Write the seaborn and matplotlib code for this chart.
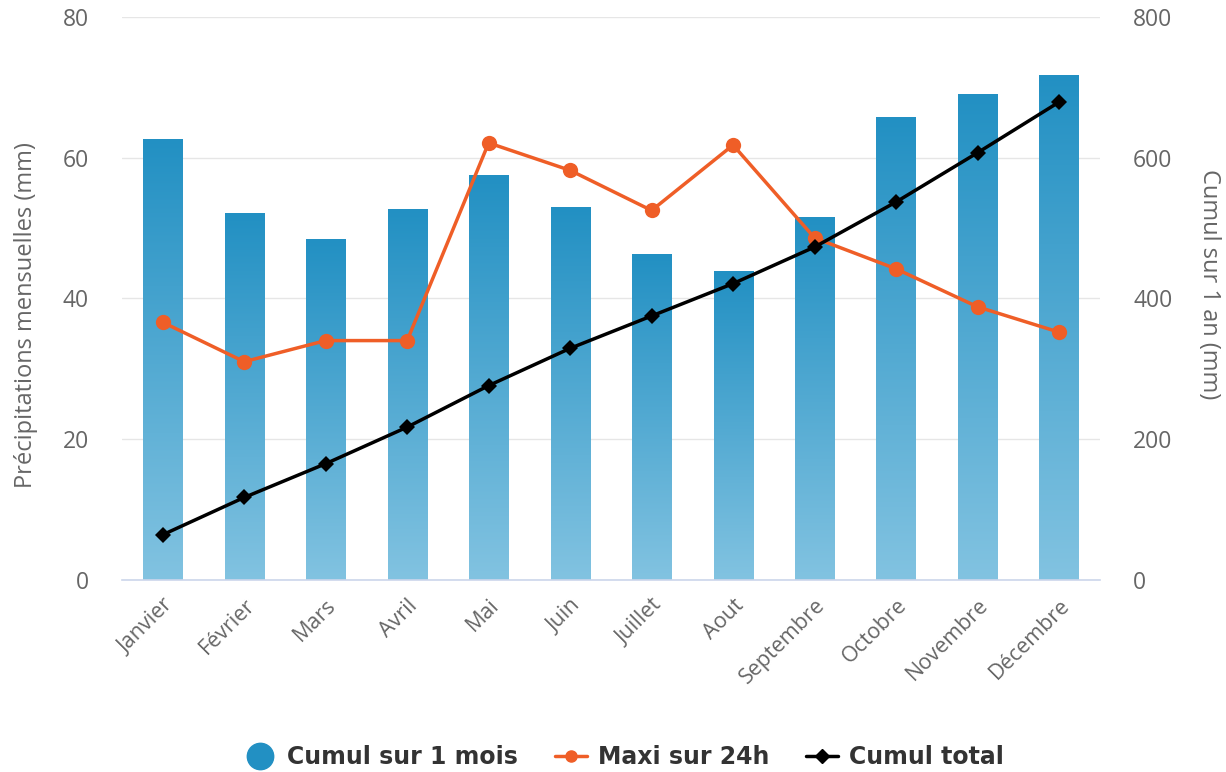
import numpy as np
import pandas as pd
import matplotlib
matplotlib.use("Agg")
import matplotlib.pyplot as plt
import seaborn as sns
from matplotlib.colors import LinearSegmentedColormap
from matplotlib.lines import Line2D

# Données
mois = ['Janvier', 'Février', 'Mars', 'Avril', 'Mai', 'Juin', 'Juillet',
        'Aout', 'Septembre', 'Octobre', 'Novembre', 'Décembre']
cumul_mois = [62.6, 52.1, 48.4, 52.7, 57.5, 53.0, 46.3, 43.9, 51.5, 65.8, 69.0, 71.7]
maxi_24h = [36.6, 31.0, 34.0, 34.0, 62.1, 58.2, 52.5, 61.8, 48.6, 44.2, 38.8, 35.2]
cumul_total = [64, 117, 165, 217, 276, 329, 375, 421, 473, 537, 607, 679]

df = pd.DataFrame({'mois': mois, 'cumul_mois': cumul_mois,
                   'maxi': maxi_24h, 'total': cumul_total})
df['pos'] = np.arange(len(df))

sns.set_theme(style='white')
plt.rcParams['font.family'] = ['Open Sans', 'DejaVu Sans']

gris = '#666666'
fig = plt.figure(figsize=(12.26, 7.72), dpi=100)
ax = fig.add_axes([0.0995, 0.249, 0.7975, 0.729])

# Barres avec dégradé vertical
sns.barplot(data=df, x='mois', y='cumul_mois', ax=ax, width=0.48, color='#2a90c4')
cmap = LinearSegmentedColormap.from_list('bleu', ['#82c3e1', '#2290c3'])
grad = np.linspace(0, 1, 256).reshape(-1, 1)
for p in ax.patches:
    x0, w, h = p.get_x(), p.get_width(), p.get_height()
    ax.imshow(grad, extent=[x0, x0 + w, 0, h], origin='lower', aspect='auto',
              cmap=cmap, zorder=1)
    p.set_facecolor('none')
    p.set_edgecolor('none')

sns.lineplot(data=df, x='pos', y='maxi', ax=ax, color='#ef5e27', lw=2.5,
             marker='o', markersize=11, markeredgewidth=0, zorder=4)

ax.set_xlim(-0.5, 11.5)
ax.set_ylim(0, 80)
ax.set_yticks([0, 20, 40, 60, 80])
ax.set_axisbelow(True)
ax.grid(axis='y', color='#e6e6e6', lw=1)
ax.grid(axis='x', visible=False)
for s in ['left', 'top', 'right']:
    ax.spines[s].set_visible(False)
ax.spines['bottom'].set_color('#ccd6eb')
ax.spines['bottom'].set_linewidth(1.2)

ax.set_xticks(df['pos'])
ax.set_xticklabels(mois, rotation=45, ha='right', rotation_mode='anchor',
                   fontsize=15.5, color=gris)
ax.set_xticks(np.arange(-0.5, 12, 1), minor=True)
ax.tick_params(axis='x', which='major', length=0, pad=11)
ax.tick_params(axis='x', which='minor', length=14, color='#ccd6eb', width=1.2)
ax.tick_params(axis='y', length=0, pad=24, labelsize=16.5, labelcolor=gris)
ax.set_xlabel('')
ax.set_ylabel('Précipitations mensuelles (mm)', fontsize=17, color=gris)
ax.yaxis.set_label_coords(-0.086, 0.47)

# Axe secondaire pour le cumul annuel
ax2 = ax.twinx()
sns.lineplot(data=df, x='pos', y='total', ax=ax2, color='#000000', lw=2.5,
             marker='D', markersize=8.5, markeredgewidth=0)
ax2.set_ylim(0, 800)
ax2.set_yticks([0, 200, 400, 600, 800])
ax2.set_xlim(-0.5, 11.5)
for s in ax2.spines.values():
    s.set_visible(False)
ax2.grid(False)
ax2.tick_params(axis='y', length=0, pad=24, labelsize=16.5, labelcolor=gris)
ax2.set_ylabel('Cumul sur 1 an (mm)', fontsize=17, color=gris, rotation=270)
ax2.yaxis.set_label_coords(1.124, 0.525)
ax2.set_xlabel('')

handles = [
    Line2D([], [], ls='none', marker='o', markersize=19, color='#2290c3'),
    Line2D([], [], color='#ef5e27', lw=2.5, marker='o', markersize=8),
    Line2D([], [], color='#000000', lw=2.5, marker='D', markersize=7),
]
labels = ['Cumul sur 1 mois', 'Maxi sur 24h', 'Cumul total']
fig.legend(handles, labels, loc='lower center', bbox_to_anchor=(0.509, -0.024),
           ncol=3, frameon=False, handlelength=1.35, handletextpad=0.47,
           columnspacing=1.57,
           prop={'family': 'DejaVu Sans', 'weight': 'bold', 'size': 17},
           labelcolor='#333333')

fig.savefig('out.png', dpi=100)
